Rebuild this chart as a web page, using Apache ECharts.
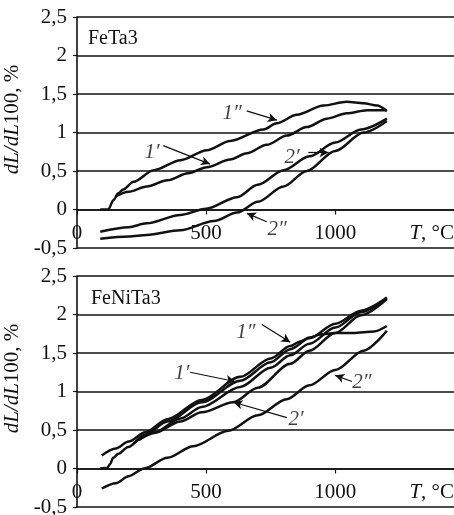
<!DOCTYPE html>
<html>
<head>
<meta charset="utf-8">
<script src="https://cdn.jsdelivr.net/npm/echarts@6/dist/echarts.min.js"></script>
<style>
html, body { margin: 0; padding: 0; background: #fff; }
#main { width: 454px; height: 515px; }
</style>
</head>
<body>
<div id="main"></div>
<script>
// FeTa3 (top), T in °C, dL/dL100 in %
var feTa_1pp = [[90,0],[121,0],[141,0.12],[160,0.21],[179,0.26],[219,0.36],[297,0.51],[401,0.64],[503,0.77],[593,0.89],[722,1.04],[774,1.12],[851,1.23],[955,1.35],[1045,1.40],[1110,1.38],[1162,1.35],[1200,1.28]];
var feTa_1p = [[150,0.17],[200,0.23],[270,0.30],[350,0.38],[430,0.47],[503,0.55],[593,0.65],[658,0.73],[735,0.84],[813,0.96],[890,1.07],[968,1.18],[1045,1.25],[1123,1.29],[1200,1.29]];
var feTa_2p = [[90,-0.29],[200,-0.23],[270,-0.18],[400,-0.07],[500,0.01],[620,0.16],[700,0.32],[800,0.51],[900,0.69],[1000,0.87],[1100,1.04],[1200,1.18]];
var feTa_2pp = [[90,-0.38],[200,-0.35],[270,-0.33],[400,-0.27],[530,-0.15],[620,-0.04],[700,0.10],[800,0.30],[890,0.50],[1000,0.76],[1110,1.00],[1200,1.15]];

// FeNiTa3 (bottom)
var feNiTa_1p = [[90,0],[118,0.01],[128,0.06],[140,0.14],[160,0.19],[198,0.28],[264,0.44],[350,0.61],[483,0.86],[632,1.14],[750,1.38],[826,1.55],[900,1.69],[1000,1.88],[1100,2.05],[1200,2.22]];
var feNiTa_1pp = [[96,0.17],[150,0.26],[200,0.35],[264,0.47],[350,0.64],[483,0.89],[632,1.19],[750,1.43],[826,1.59],[864,1.65],[900,1.70],[942,1.74],[1000,1.76],[1070,1.76],[1150,1.78],[1200,1.85]];
var feNiTa_3 = [[220,0.33],[300,0.47],[400,0.65],[483,0.80],[632,1.06],[750,1.31],[826,1.47],[900,1.62],[1000,1.83],[1100,2.03],[1200,2.21]];
var feNiTa_2p = [[240,0.37],[300,0.46],[400,0.61],[483,0.73],[605,0.86],[700,1.05],[826,1.36],[900,1.53],[1000,1.76],[1100,1.99],[1200,2.20]];
var feNiTa_2pp = [[96,-0.26],[150,-0.19],[200,-0.10],[260,0],[350,0.14],[450,0.29],[586,0.49],[700,0.69],[812,0.90],[900,1.08],[1000,1.28],[1110,1.53],[1200,1.79]];

var yTicks = [-0.5, 0, 0.5, 1, 1.5, 2, 2.5];
var xTicks = [0, 500, 1000];
var xMax = 1460;
var panelNames = ['FeTa3', 'FeNiTa3'];

// curve labels: [text, label point, arrow start, arrow tip]
var notesTop = [
    ['1″', [601,1.25], [657,1.28], [774,1.16]],
    ['1′', [291,0.74], [334,0.83], [515,0.59]],
    ['2′', [833,0.67], [896,0.74], [974,0.74]],
    ['2″', [775,-0.26], [735,-0.16], [658,-0.05]]
];
var notesBottom = [
    ['1″', [654,1.77], [716,1.87], [826,1.64]],
    ['1′', [406,1.24], [438,1.25], [612,1.13]],
    ['2′', [848,0.64], [813,0.66], [606,0.86]],
    ['2″', [1103,1.12], [1065,1.13], [1000,1.21]]
];

var ink = '#111';
var serif = 'Liberation Serif';

function curve(data, idx) {
    return {
        type: 'line',
        xAxisIndex: idx,
        yAxisIndex: idx,
        data: data,
        symbol: 'none',
        smooth: 0.3,
        smoothMonotone: 'x',
        lineStyle: { color: ink, width: 2.5 },
        z: 3
    };
}

function notes(list, idx) {
    var lines = [];
    var labels = [];
    for (var i = 0; i < list.length; i++) {
        lines.push([{ coord: list[i][2] }, { coord: list[i][3] }]);
        labels.push([list[i][1][0], list[i][1][1], list[i][0]]);
    }
    return {
        type: 'scatter',
        xAxisIndex: idx,
        yAxisIndex: idx,
        data: labels,
        symbolSize: 0,
        silent: true,
        label: {
            show: true,
            position: 'inside',
            formatter: function (p) { return p.data[2]; },
            fontFamily: serif,
            fontStyle: 'italic',
            fontSize: 21,
            color: ink
        },
        markLine: {
            silent: true,
            symbol: ['none', 'arrow'],
            symbolSize: [7, 9],
            label: { show: false },
            lineStyle: { color: ink, width: 1.2, type: 'solid' },
            data: lines
        },
        z: 4
    };
}

function xAxisOf(idx) {
    return {
        gridIndex: idx,
        type: 'value',
        min: 0,
        max: xMax,
        interval: 500,
        axisLine: { onZero: true, lineStyle: { color: ink, width: 1.5 } },
        axisTick: { show: true, length: 5, lineStyle: { color: ink, width: 1.2 } },
        axisLabel: {
            margin: -25,
            fontFamily: serif,
            fontSize: 21,
            color: ink,
            alignMaxLabel: 'right',
            formatter: function (v) {
                if (xTicks.indexOf(v) >= 0) return String(v);
                if (v === xMax) return '{i|T}, °C';
                return '';
            },
            rich: { i: { fontFamily: serif, fontStyle: 'italic', fontSize: 21, color: ink } }
        },
        splitLine: { show: false }
    };
}

function yAxisOf(idx) {
    return {
        gridIndex: idx,
        type: 'value',
        min: yTicks[0],
        max: yTicks[yTicks.length - 1],
        interval: 0.5,
        axisLine: { show: true, lineStyle: { color: ink, width: 1.6 } },
        axisTick: { show: true, length: 4, lineStyle: { color: ink, width: 1.2 } },
        axisLabel: {
            margin: 10,
            fontFamily: serif,
            fontSize: 21,
            color: ink,
            formatter: function (v) { return String(v).replace('.', ','); }
        },
        splitLine: { show: true, lineStyle: { color: ink, width: 1.6 } },
        name: '{i|dL/dL}100, %',
        nameLocation: 'middle',
        nameRotate: 90,
        nameGap: 50,
        nameTextStyle: {
            fontFamily: serif,
            fontSize: 21,
            color: ink,
            padding: [0, 0, 0, 26],
            rich: { i: { fontFamily: serif, fontStyle: 'italic', fontSize: 21, color: ink } }
        }
    };
}

var chart = echarts.init(document.getElementById('main'), null, { renderer: 'canvas' });
var option = {
    backgroundColor: '#fff',
    animation: false,
    title: [
        { text: panelNames[0], left: 83, top: 24, textStyle: { fontFamily: serif, fontSize: 20, fontWeight: 'normal', color: ink } },
        { text: panelNames[1], left: 86, top: 284, textStyle: { fontFamily: serif, fontSize: 20, fontWeight: 'normal', color: ink } }
    ],
    grid: [
        { left: 77, top: 17, width: 377, height: 231, outerBoundsMode: 'none' },
        { left: 77, top: 276, width: 377, height: 231, outerBoundsMode: 'none' }
    ],
    xAxis: [xAxisOf(0), xAxisOf(1)],
    yAxis: [yAxisOf(0), yAxisOf(1)],
    series: [
        curve(feTa_1pp, 0),
        curve(feTa_1p, 0),
        curve(feTa_2p, 0),
        curve(feTa_2pp, 0),
        notes(notesTop, 0),
        curve(feNiTa_1p, 1),
        curve(feNiTa_1pp, 1),
        curve(feNiTa_3, 1),
        curve(feNiTa_2p, 1),
        curve(feNiTa_2pp, 1),
        notes(notesBottom, 1)
    ]
};
chart.setOption(option);
</script>
</body>
</html>
